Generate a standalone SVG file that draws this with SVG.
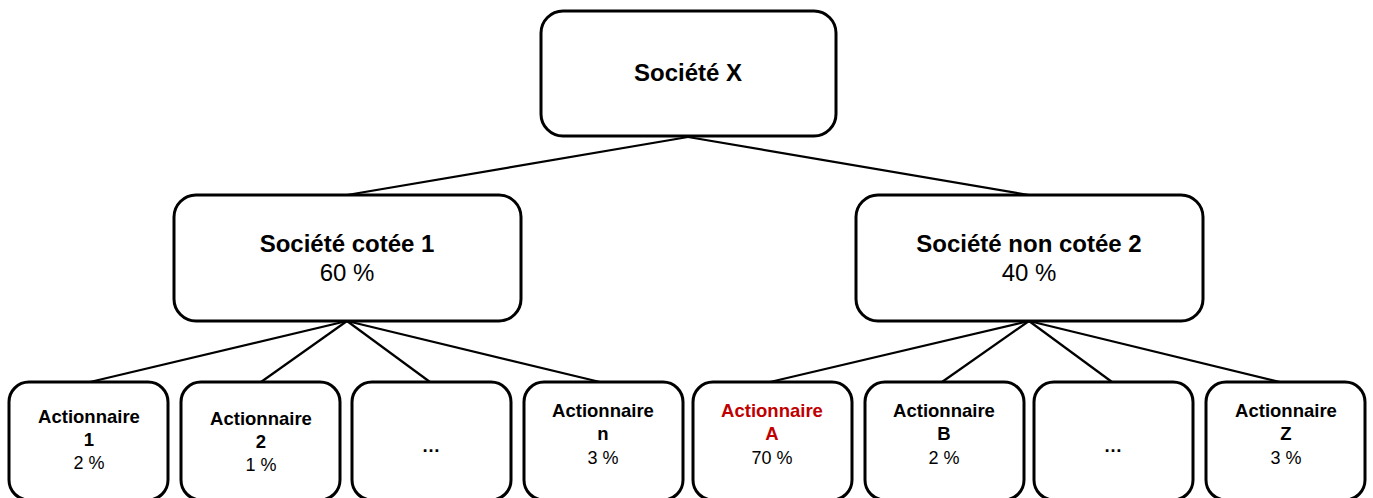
<svg xmlns="http://www.w3.org/2000/svg" width="1373" height="498" viewBox="0 0 1373 498">
<style>
.box{fill:#fff;stroke:#000;stroke-width:3}
.ln{stroke:#000;stroke-width:2.2;fill:none}
text{font-family:"Liberation Sans",Arial,sans-serif;text-anchor:middle;fill:#000}
.big{font-size:24px}
.sm{font-size:18.5px}
.pc{font-size:18px}
.b{font-weight:bold}
.red{fill:#C00000}
</style>
<rect width="1373" height="498" fill="#fff"/>
<g id="connectors">
<line class="ln" x1="688" y1="137" x2="347" y2="195"/>
<line class="ln" x1="688" y1="137" x2="1029" y2="195"/>
<line class="ln" x1="347" y1="321" x2="90" y2="382"/>
<line class="ln" x1="347" y1="321" x2="261" y2="382"/>
<line class="ln" x1="347" y1="321" x2="430" y2="382"/>
<line class="ln" x1="347" y1="321" x2="600" y2="382"/>
<line class="ln" x1="1029" y1="321" x2="770" y2="382"/>
<line class="ln" x1="1029" y1="321" x2="942" y2="382"/>
<line class="ln" x1="1029" y1="321" x2="1112" y2="382"/>
<line class="ln" x1="1029" y1="321" x2="1280" y2="382"/>
</g>
<g id="societe-x">
<rect class="box" x="541" y="11" width="295" height="125" rx="22"/>
<text class="big b" x="688" y="81">Société X</text>
</g>
<g id="societe-cotee-1">
<rect class="box" x="174" y="195" width="347" height="126" rx="22"/>
<text class="big b" x="347" y="252">Société cotée 1</text>
<text class="big" x="347" y="281">60 %</text>
</g>
<g id="societe-non-cotee-2">
<rect class="box" x="856" y="195" width="347" height="126" rx="22"/>
<text class="big b" x="1029" y="252">Société non cotée 2</text>
<text class="big" x="1029" y="281">40 %</text>
</g>
<g id="actionnaire-1">
<rect class="box" x="9" y="382" width="159" height="118" rx="20"/>
<text class="sm b" x="89" y="423">Actionnaire</text>
<text class="sm b" x="89" y="446">1</text>
<text class="pc" x="89" y="469">2 %</text>
</g>
<g id="actionnaire-2">
<rect class="box" x="181" y="382" width="159" height="118" rx="20"/>
<text class="sm b" x="261" y="425">Actionnaire</text>
<text class="sm b" x="261" y="448">2</text>
<text class="pc" x="261" y="471">1 %</text>
</g>
<g id="actionnaire-etc-1">
<rect class="box" x="352" y="382" width="159" height="118" rx="20"/>
<text class="sm b" x="431" y="452">…</text>
</g>
<g id="actionnaire-n">
<rect class="box" x="524" y="382" width="159" height="118" rx="20"/>
<text class="sm b" x="603" y="417">Actionnaire</text>
<text class="sm b" x="603" y="440">n</text>
<text class="pc" x="603" y="464">3 %</text>
</g>
<g id="actionnaire-a">
<rect class="box" x="693" y="382" width="159" height="118" rx="20"/>
<text class="sm b red" x="772" y="417">Actionnaire</text>
<text class="sm b red" x="772" y="440">A</text>
<text class="pc" x="772" y="464">70 %</text>
</g>
<g id="actionnaire-b">
<rect class="box" x="865" y="382" width="159" height="118" rx="20"/>
<text class="sm b" x="944" y="417">Actionnaire</text>
<text class="sm b" x="944" y="440">B</text>
<text class="pc" x="944" y="464">2 %</text>
</g>
<g id="actionnaire-etc-2">
<rect class="box" x="1034" y="382" width="159" height="118" rx="20"/>
<text class="sm b" x="1113" y="452">…</text>
</g>
<g id="actionnaire-z">
<rect class="box" x="1206" y="382" width="159" height="118" rx="20"/>
<text class="sm b" x="1286" y="417">Actionnaire</text>
<text class="sm b" x="1286" y="440">Z</text>
<text class="pc" x="1286" y="464">3 %</text>
</g>
</svg>
